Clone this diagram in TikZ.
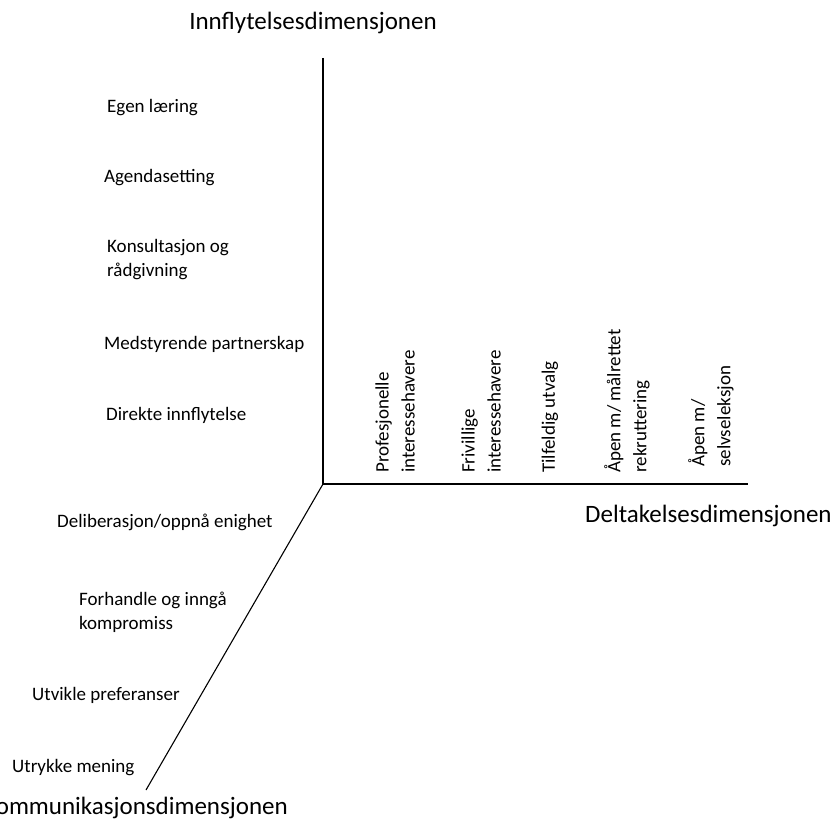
\documentclass[tikz,border=0pt]{standalone}
\usepackage{fontspec}
\setmainfont{Carlito}
\begin{document}
\begin{tikzpicture}[x=1pt,y=-1pt,
  axis/.style={line width=1.1pt,black},
  title/.style={inner sep=0pt,font=\fontsize{25}{30}\selectfont},
  lab/.style={inner sep=0pt,anchor=mid west,align=left,font=\fontsize{19}{24}\selectfont},
  vlab/.style={inner sep=0pt,anchor=west,rotate=90,align=left,font=\fontsize{19}{26}\selectfont}]
\clip (0,0) rectangle (836,834);
\fill[white] (0,0) rectangle (836,834);

% axes
\coordinate (o) at (323,484);
\coordinate (top) at (323,58);
\coordinate (right) at (748,484);
\coordinate (low) at (146,790);
\draw[axis] (top) -- (o) -- (right);
\draw[axis] (o) -- (low);

% dimension titles
\node[title,anchor=mid] (tin) at (313,27) {Innflytelsesdimensjonen};
\node[title,anchor=mid west] (tdel) at (585,520) {Deltakelsesdimensjonen};
\node[title,anchor=mid east] (tkom) at (288,812) {Kommunikasjonsdimensjonen};

% influence levels
\node[lab] (i1) at (107,110) {Egen læring};
\node[lab] (i2) at (104,180) {Agendasetting};
\node[lab,anchor=west] (i3) at (107,260) {Konsultasjon og\\rådgivning};
\node[lab] (i4) at (104,347) {Medstyrende partnerskap};
\node[lab] (i5) at (106,418) {Direkte innflytelse};

% participant selection
\node[vlab] (d1) at (395,473) {Profesjonelle\\interessehavere};
\node[vlab] (d2) at (481,473) {Frivillige\\interessehavere};
\node[vlab] (d3) at (550,473) {Tilfeldig utvalg};
\node[vlab] (d4) at (627,473) {Åpen m/ målrettet\\rekruttering};
\node[vlab] (d5) at (711,467) {Åpen m/\\selvseleksjon};

% communication modes
\node[lab] (k1) at (57,525) {Deliberasjon/oppnå enighet};
\node[lab,anchor=west] (k2) at (79,612) {Forhandle og inngå\\kompromiss};
\node[lab] (k3) at (32,698) {Utvikle preferanser};
\node[lab] (k4) at (12,770) {Utrykke mening};
\end{tikzpicture}
\end{document}
